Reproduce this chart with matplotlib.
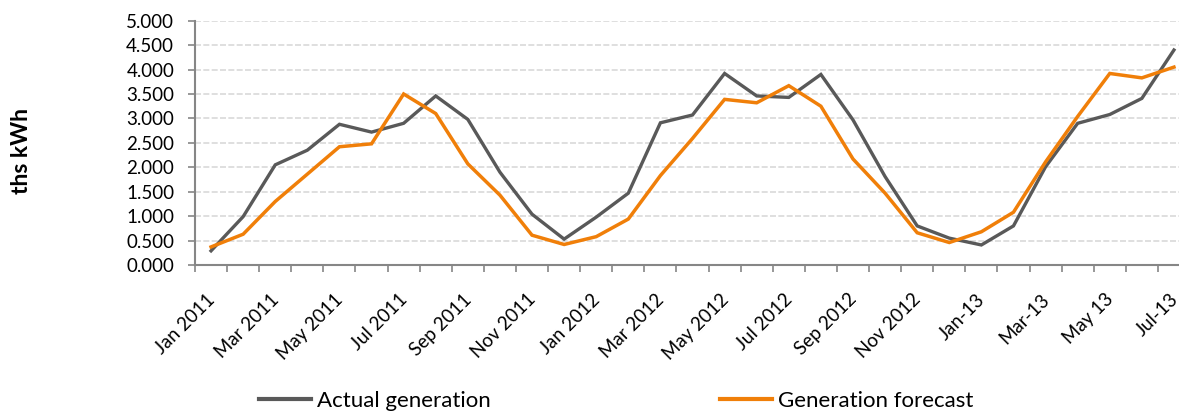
import matplotlib
matplotlib.use('Agg')
import matplotlib.pyplot as plt
from matplotlib.lines import Line2D
from matplotlib.ticker import FuncFormatter, FixedLocator

plt.rcParams['font.family'] = ['Lato', 'DejaVu Sans']

# monthly data, Jan 2011 .. Jul 2013 (ths kWh)
months = ['Jan 2011', 'Feb 2011', 'Mar 2011', 'Apr 2011', 'May 2011', 'Jun 2011',
          'Jul 2011', 'Aug 2011', 'Sep 2011', 'Oct 2011', 'Nov 2011', 'Dec 2011',
          'Jan 2012', 'Feb 2012', 'Mar 2012', 'Apr 2012', 'May 2012', 'Jun 2012',
          'Jul 2012', 'Aug 2012', 'Sep 2012', 'Oct 2012', 'Nov 2012', 'Dec 2012',
          'Jan-13', 'Feb-13', 'Mar-13', 'Apr-13', 'May 13', 'Jun-13', 'Jul-13']
actual = [0.29, 0.99, 2.05, 2.35, 2.88, 2.72, 2.90, 3.46, 2.98, 1.90, 1.04, 0.53,
          0.98, 1.47, 2.91, 3.07, 3.92, 3.46, 3.43, 3.90, 2.97, 1.81, 0.80, 0.55,
          0.41, 0.80, 2.01, 2.90, 3.08, 3.41, 4.40]
forecast = [0.37, 0.63, 1.30, 1.86, 2.42, 2.48, 3.50, 3.10, 2.07, 1.43, 0.61, 0.42,
            0.58, 0.94, 1.83, 2.59, 3.39, 3.32, 3.67, 3.25, 2.17, 1.47, 0.66, 0.46,
            0.68, 1.08, 2.11, 3.04, 3.92, 3.83, 4.05]

GRAY = '#595959'
ORANGE = '#f07f09'
AXIS = '#868686'

fig = plt.figure(figsize=(11.79, 4.12), dpi=100)
ax = fig.add_axes([195 / 1179, 147 / 412, 995 / 1179, 244.3 / 412])

x = list(range(len(months)))
ax.plot(x, actual, color=GRAY, lw=2.4, solid_joinstyle='miter', zorder=3)
ax.plot(x, forecast, color=ORANGE, lw=2.5, solid_joinstyle='miter', zorder=4)

ax.set_xlim(-0.5, len(months) - 0.5)
ax.set_ylim(0, 5)
ax.set_yticks([i * 0.5 for i in range(11)])
ax.yaxis.set_major_formatter(FuncFormatter(lambda v, p: f'{v:.3f}'))
ax.yaxis.grid(True, color='#d9d9d9', lw=1.2, ls=(0, (3.6, 1.4)))
ax.set_axisbelow(True)

# labels on every other month, tick marks on category boundaries
ax.xaxis.set_major_locator(FixedLocator(x[::2]))
ax.set_xticklabels(months[::2], rotation=45, ha='right', va='center_baseline',
                   rotation_mode='anchor')
ax.xaxis.set_minor_locator(FixedLocator([i - 0.5 for i in range(len(months) + 1)]))
ax.tick_params(axis='x', which='major', length=0, pad=22, labelsize=13.5)
ax.tick_params(axis='x', which='minor', length=5, width=1.2, color=AXIS)
ax.tick_params(axis='y', length=5, width=1.2, color=AXIS, labelsize=13.5, pad=10)

for side in ['top', 'right']:
    ax.spines[side].set_visible(False)
for side in ['left', 'bottom']:
    ax.spines[side].set_color(AXIS)
    ax.spines[side].set_linewidth(1.5)

fig.text(21 / 1179, 1 - 151 / 412, 'ths kWh', rotation=90, fontsize=16.5,
         fontweight='bold', ha='center', va='center')

handles = [Line2D([], [], color=GRAY, lw=3), Line2D([], [], color=ORANGE, lw=3)]
fig.legend(handles, ['Actual generation', 'Generation forecast'], ncol=2,
           loc='center left', bbox_to_anchor=(259 / 1179, 1 - 401 / 412),
           frameon=False, fontsize=16, handlelength=2.34, handletextpad=0.27,
           columnspacing=10.3, borderaxespad=0, borderpad=0)

fig.savefig('out.png', dpi=100)
